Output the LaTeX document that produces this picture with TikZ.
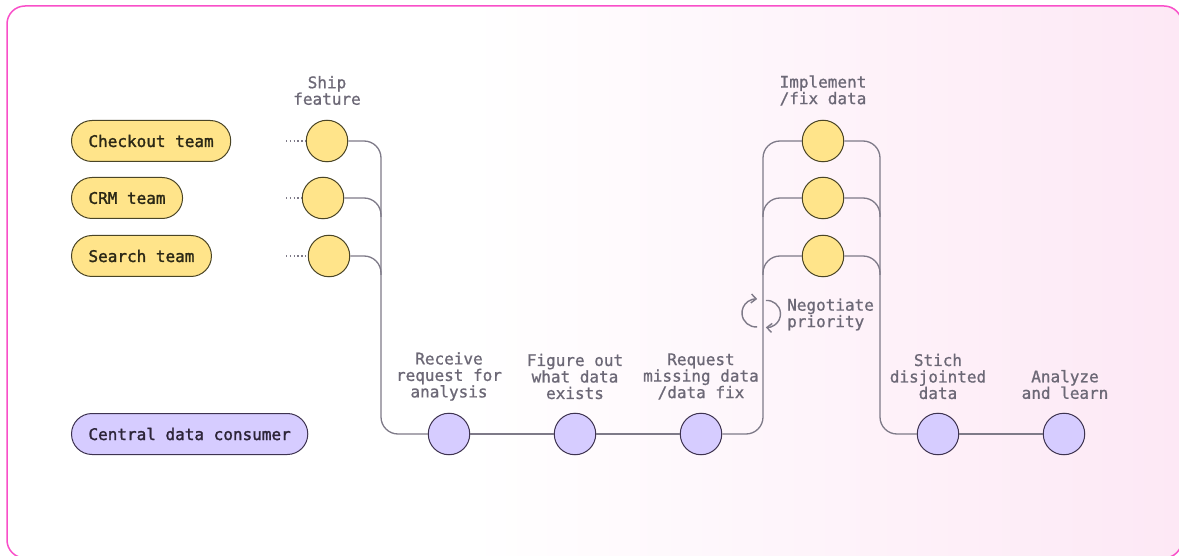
\documentclass[tikz,border=0pt]{standalone}
\usepackage{fontspec}
\newfontfamily\labelfont[FakeBold=0.9]{DejaVu Sans Mono}
\newfontfamily\pillfont[FakeBold=1.6]{DejaVu Sans Mono}
\usetikzlibrary{arrows.meta}

\definecolor{framepink}{HTML}{F94FC9}
\definecolor{bgpink}{HTML}{FDE8F5}
\definecolor{yellowfill}{HTML}{FFE48A}
\definecolor{yellowline}{HTML}{4A4526}
\definecolor{yellowtext}{HTML}{2B2816}
\definecolor{purplefill}{HTML}{D6CCFF}
\definecolor{purpleline}{HTML}{3E3350}
\definecolor{purpletext}{HTML}{2C2438}
\definecolor{linegray}{HTML}{7E7A88}
\definecolor{labelgray}{HTML}{6C6876}

\begin{document}
\begin{tikzpicture}[x=1pt,y=1pt,
  pill/.style={rounded corners=20.5pt, minimum height=41pt, inner xsep=17pt,
    inner ysep=0pt, anchor=west, line width=1pt,
    font=\pillfont\fontsize{16}{16.5}\selectfont},
  team/.style={pill, draw=yellowline, fill=yellowfill, text=yellowtext},
  consumer/.style={pill, draw=purpleline, fill=purplefill, text=purpletext},
  dot/.style={circle, minimum size=41.5pt, inner sep=0pt, line width=1pt},
  ydot/.style={dot, draw=yellowline, fill=yellowfill},
  pdot/.style={dot, draw=purpleline, fill=purplefill},
  conn/.style={draw=linegray, line width=1.3pt, rounded corners=17pt},
  lead/.style={draw=linegray, line width=1.1pt, dash pattern=on 1.4pt off 2.4pt},
  lbl/.style={font=\labelfont\fontsize{16}{16.5}\selectfont, text=labelgray,
    align=center, inner sep=0pt},
  cyc/.style={draw=linegray, line width=1.4pt,
    -{Straight Barb[length=5pt,width=9pt]}}
]
\useasboundingbox (0,0) rectangle (1179,-556);

% backdrop: white page, card fading to pink on the right
\fill[white] (0,0) rectangle (1179,-556);
\begin{scope}
  \clip[rounded corners=18pt] (7,-6) rectangle (1182,-558);
  \fill[white] (0,0) rectangle (1179,-556);
  \shade[left color=white, right color=bgpink] (470,0) rectangle (1179,-556);
\end{scope}
\draw[framepink, line width=1.5pt, rounded corners=18pt] (7,-6) rectangle (1182,-558);

% actors
\node[team] (checkout) at (71,-141) {Checkout team};
\node[team] (crm) at (71,-198) {CRM team};
\node[team] (search) at (71,-256) {Search team};
\node[consumer] (central) at (71,-434) {Central data consumer};

% ship feature steps
\node[ydot] (s1) at (327,-141) {};
\node[ydot] (s2) at (323,-198) {};
\node[ydot] (s3) at (329,-256) {};
\node[lbl] (shiplbl) at (327,-90.5) {Ship\\feature};

% implement / fix data steps
\node[ydot] (i1) at (823,-141) {};
\node[ydot] (i2) at (823,-198) {};
\node[ydot] (i3) at (823,-256) {};
\node[lbl] (impllbl) at (823,-90.5) {Implement\\/fix data};

% consumer steps
\node[pdot] (r1) at (449,-434) {};
\node[pdot] (r2) at (575,-434) {};
\node[pdot] (r3) at (701,-434) {};
\node[pdot] (t1) at (938,-434) {};
\node[pdot] (t2) at (1064,-434) {};

\node[lbl] (l1) at (449,-376.5) {Receive\\request for\\analysis};
\node[lbl] (l2) at (575,-376.5) {Figure out\\what data\\exists};
\node[lbl] (l3) at (701,-376.5) {Request\\missing data\\/data fix};
\node[lbl] (l4) at (938,-376.5) {Stich\\disjointed\\data};
\node[lbl] (l5) at (1065,-384.5) {Analyze\\and learn};

% dotted leads into the ship steps
\coordinate (d1) at (286,-141);
\coordinate (d2) at (286,-198);
\coordinate (d3) at (286,-256);
\draw[lead] (d1) -- (s1.west);
\draw[lead] (d2) -- (s2.west);
\draw[lead] (d3) -- (s3.west);

% merge of shipped features into the consumer lane
\draw[conn] (s1.east) -| (381,-434) -- (r1.west);
\draw[conn] (s2.east) -| (381,-217);
\draw[conn] (s3.east) -| (381,-275);
\draw[conn] (r1.east) -- (r2.west);
\draw[conn] (r2.east) -- (r3.west);

% fan out to the teams and back
\draw[conn] (r3.east) -| (763,-141) -- (i1.west);
\draw[conn] (i2.west) -| (763,-217);
\draw[conn] (i3.west) -| (763,-275);
\draw[conn] (i1.east) -| (880,-434) -- (t1.west);
\draw[conn] (i2.east) -| (880,-217);
\draw[conn] (i3.east) -| (880,-275);
\draw[conn] (t1.east) -- (t2.west);

% negotiation loop
\draw[cyc] (757.2,-326.9) arc[start angle=275, end angle=85, radius=14];
\draw[cyc] (765.8,-300.5) arc[start angle=95, end angle=-95, radius=13.5];
\node[lbl, align=left, anchor=west] (neg) at (787,-314.5) {Negotiate\\priority};

\end{tikzpicture}
\end{document}
